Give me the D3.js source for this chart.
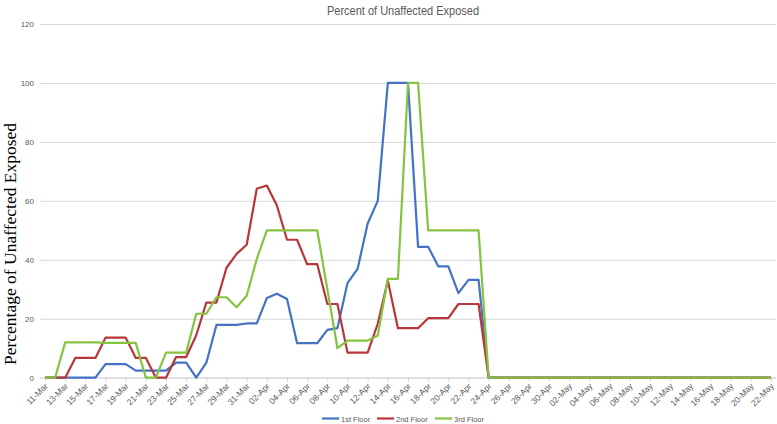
<!DOCTYPE html>
<html>
<head>
<meta charset="utf-8">
<script src="https://cdn.jsdelivr.net/npm/d3@7"></script>
<style>
  body { margin: 0; background: #ffffff; }
  svg { display: block; }
  .lbl { font-family: "Liberation Sans", Arial, sans-serif; fill: #595959; }
</style>
</head>
<body>
<svg id="chart" width="777" height="424"></svg>
<script>
// ---------- data ----------
const dates = ["11-Mar","12-Mar","13-Mar","14-Mar","15-Mar","16-Mar","17-Mar","18-Mar","19-Mar","20-Mar",
  "21-Mar","22-Mar","23-Mar","24-Mar","25-Mar","26-Mar","27-Mar","28-Mar","29-Mar","30-Mar","31-Mar",
  "01-Apr","02-Apr","03-Apr","04-Apr","05-Apr","06-Apr","07-Apr","08-Apr","09-Apr","10-Apr",
  "11-Apr","12-Apr","13-Apr","14-Apr","15-Apr","16-Apr","17-Apr","18-Apr","19-Apr","20-Apr",
  "21-Apr","22-Apr","23-Apr","24-Apr","25-Apr","26-Apr","27-Apr","28-Apr","29-Apr","30-Apr",
  "01-May","02-May","03-May","04-May","05-May","06-May","07-May","08-May","09-May","10-May",
  "11-May","12-May","13-May","14-May","15-May","16-May","17-May","18-May","19-May","20-May",
  "21-May","22-May"];

const tickLabels = ["11-Mar","13-Mar","15-Mar","17-Mar","19-Mar","21-Mar","23-Mar","25-Mar","27-Mar","29-Mar",
  "31-Mar","02-Apr","04-Apr","06-Apr","08-Apr","10-Apr","12-Apr","14-Apr","16-Apr","18-Apr","20-Apr",
  "22-Apr","24-Apr","26-Apr","28-Apr","30-Apr","02-May","04-May","06-May","08-May","10-May","12-May",
  "14-May","16-May","18-May","20-May","22-May"];

const yTicks = [0, 20, 40, 60, 80, 100, 120];

const floor1 = [0,0,0,0,0,0, 4.6,4.6,4.6, 2.4,2.4,2.4,2.4, 5.1,5.1, 0, 5.1, 17.9,17.9,17.9, 18.4,18.4,
  27,28.5,26.7, 11.7,11.7,11.7, 16.2,16.8,32.1,36.9,52.3,60, 100,100,100, 44.4,44.4, 37.8,37.8, 28.7, 33.2,33.2,
  0,0,0,0,0,0,0,0,0,0,0,0,0,0,0,0,0,0,0,0,0,0,0,0,0,0,0,0,0];

const floor2 = [0,0,0, 6.7,6.7,6.7, 13.6,13.6,13.6, 6.7,6.7, 0,0, 7,7, 14.4, 25.5,25.5, 37.3,42,45.1,64.1,65.2,58.4,
  46.8,46.8, 38.5,38.5, 25,25, 8.5,8.5,8.5, 18.3,33, 16.8,16.8,16.8, 20.2,20.2,20.2, 25,25,25,
  0,0,0,0,0,0,0,0,0,0,0,0,0,0,0,0,0,0,0,0,0,0,0,0,0,0,0,0,0];

const floor3 = [0,0, 12,12,12,12, 11.8,11.8,11.8,11.8, 0,0, 8.5,8.5,8.5, 21.7,21.7, 27.3,27.3, 23.9,27.8,40.3,
  50,50,50,50,50,50, 30,10, 12.6,12.6,12.6, 14.3, 33.5,33.5, 100,100, 50,50,50,50,50,50,
  0,0,0,0,0,0,0,0,0,0,0,0,0,0,0,0,0,0,0,0,0,0,0,0,0,0,0,0,0];

const seriesNames = ["1st Floor", "2nd Floor", "3rd Floor"];
const seriesColors = ["#4472c4", "#b8363a", "#85c441"];
const seriesValues = [floor1, floor2, floor3];

// ---------- chart ----------
const svg = d3.select("#chart");
const plotLeft = 40, plotRight = 776, plotTop = 24, plotBottom = 377.7;

const x = d3.scaleBand().domain(dates).range([plotLeft, plotRight]);
const xc = d => x(d) + x.bandwidth() / 2;
const y = d3.scaleLinear().domain([0, 120]).range([plotBottom, plotTop]);

// gridlines + y labels
const yAxis = d3.axisLeft(y).tickValues(yTicks).tickSize(-(plotRight - plotLeft)).tickPadding(6);
const gy = svg.append("g").attr("transform", `translate(${plotLeft},0)`).call(yAxis);
gy.select(".domain").remove();
gy.selectAll(".tick line").attr("stroke", "#d9d9d9").attr("stroke-width", 1);
gy.selectAll(".tick text").attr("class", "lbl").attr("font-size", 8).attr("fill", "#595959");

// x axis
const xAxis = d3.axisBottom(d3.scalePoint().domain(dates).range([xc(dates[0]), xc(dates[dates.length - 1])]))
  .tickValues(tickLabels).tickSize(4).tickSizeOuter(0);
const gx = svg.append("g").attr("transform", `translate(0,${plotBottom})`).call(xAxis);
gx.select(".domain").attr("d", `M${plotLeft},0H${plotRight}`).attr("stroke", "#d9d9d9");
gx.selectAll(".tick line").attr("stroke", "#d9d9d9");
gx.selectAll(".tick text")
  .attr("class", "lbl")
  .attr("font-size", 8.5)
  .attr("text-anchor", "end")
  .attr("dy", "0")
  .attr("x", 0)
  .attr("y", 0)
  .attr("transform", "translate(3,9) rotate(-45)");

// lines
const line = d3.line().x((d, i) => xc(dates[i])).y(d => y(d));
seriesValues.forEach((vals, si) => {
  svg.append("path")
    .datum(vals)
    .attr("fill", "none")
    .attr("stroke", seriesColors[si])
    .attr("stroke-width", 2.2)
    .attr("stroke-linejoin", "round")
    .attr("d", line);
});

// title
svg.append("text").attr("class", "lbl")
  .attr("x", 403).attr("y", 15)
  .attr("text-anchor", "middle")
  .attr("font-size", 12)
  .attr("textLength", 152)
  .attr("lengthAdjust", "spacingAndGlyphs")
  .attr("fill", "#404040")
  .text("Percent of Unaffected Exposed");

// y-axis title
svg.append("text")
  .attr("transform", "translate(16,244) rotate(-90)")
  .attr("text-anchor", "middle")
  .attr("font-family", "'Liberation Serif', 'Times New Roman', serif")
  .attr("font-size", 17.5)
  .attr("fill", "#000")
  .text("Percentage of Unaffected Exposed");

// legend
const legendX = [322, 377, 435];
const lg = svg.append("g");
seriesNames.forEach((name, i) => {
  lg.append("line")
    .attr("x1", legendX[i]).attr("x2", legendX[i] + 17)
    .attr("y1", 418.5).attr("y2", 418.5)
    .attr("stroke", seriesColors[i]).attr("stroke-width", 2.2);
  lg.append("text").attr("class", "lbl")
    .attr("x", legendX[i] + 19).attr("y", 421.5)
    .attr("font-size", 7.5)
    .text(name);
});
</script>
</body>
</html>
